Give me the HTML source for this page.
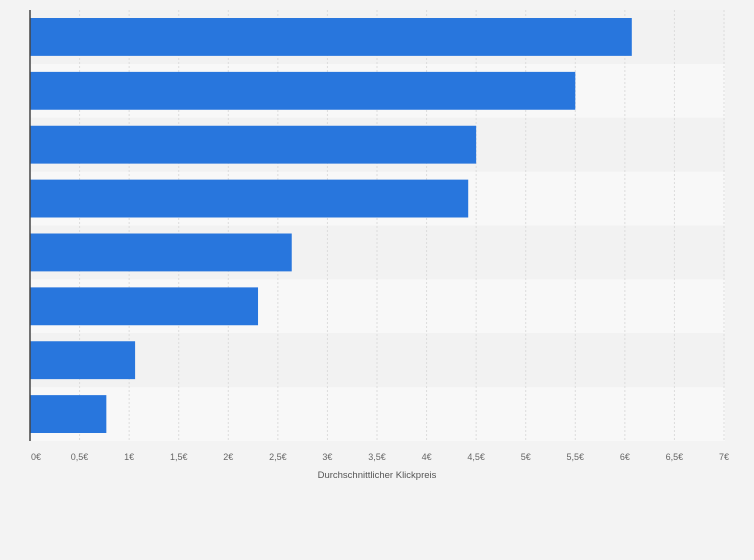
<!DOCTYPE html>
<html><head><meta charset="utf-8"><style>
body{margin:0;background:#f3f3f3;}
svg{display:block;font-family:"Liberation Sans",sans-serif;}
</style></head><body>
<svg id="chart" width="754" height="560"></svg>
<script>
const categories=["c1","c2","c3","c4","c5","c6","c7","c8"];
const values=[6.07,5.5,4.5,4.42,2.64,2.3,1.06,0.77];
const tickValues=[0,0.5,1,1.5,2,2.5,3,3.5,4,4.5,5,5.5,6,6.5,7];
const tickLabels=["0€","0,5€","1€","1,5€","2€","2,5€","3€","3,5€","4€","4,5€","5€","5,5€","6€","6,5€","7€"];
const NS="http://www.w3.org/2000/svg";
const svgEl=document.getElementById('chart');
const x0=30,x1=724,yTop=10,yBottom=441;
const band=(yBottom-yTop)/categories.length;
const xs=v=>x0+(x1-x0)*v/7;
function mk(t,a){const e=document.createElementNS(NS,t);for(const k in a)e.setAttribute(k,a[k]);svgEl.appendChild(e);return e;}
categories.forEach((c,i)=>{
 const r=mk('rect',{x:x0,y:yTop+i*band,width:725-x0,height:band,fill:i%2?'#f8f8f8':'#f2f2f2'});
 
 
});
tickValues.forEach((v,i)=>{
 if(i>0){const l=mk('line',{x1:xs(v),x2:xs(v),y1:yTop,y2:yBottom,stroke:'#dcdcdc','stroke-dasharray':'2,2'});
 
 }
 const t=mk('text',{x:xs(v)+(i==0?6:0),y:460,'text-anchor':'middle','font-size':'9',fill:'#666'});
 t.textContent=tickLabels[i];
 
 
});
categories.forEach((c,i)=>{
 const b=mk('rect',{x:x0,y:yTop+i*band+8,width:xs(values[i])-x0,height:band-16,fill:'#2876dd'});
 
 
});
const ax=mk('line',{x1:x0,x2:x0,y1:yTop,y2:yBottom,stroke:'#444','stroke-width':1.5});


const tt=mk('text',{x:377,y:478,'text-anchor':'middle','font-size':'9.5',fill:'#555'});
tt.textContent='Durchschnittlicher Klickpreis';


</script>
</body></html>
